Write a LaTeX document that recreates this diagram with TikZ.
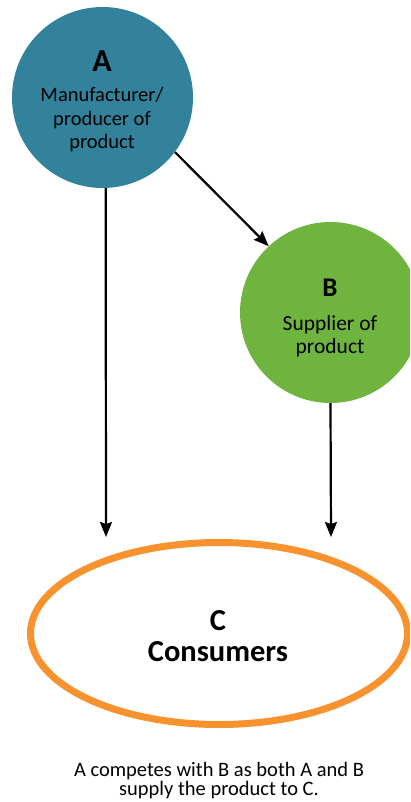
\documentclass[tikz,border=0pt]{standalone}
\usepackage{fontspec}
\setmainfont{Carlito}
\usetikzlibrary{arrows.meta,shapes.geometric}
\definecolor{tealA}{HTML}{31829A}
\definecolor{greenB}{HTML}{6EB43F}
\definecolor{orangeC}{HTML}{F7922F}
\tikzset{
  party/.style={circle, minimum size=181pt, inner sep=0pt, draw=none},
  txt/.style={anchor=base, inner sep=0pt, font=\fontsize{20.5}{24}\selectfont},
  flow/.style={line width=2.2pt, -{Stealth[length=15pt, width=12pt, inset=2pt]}}
}
\begin{document}
\begin{tikzpicture}[x=1pt, y=-1pt]
  \useasboundingbox (0,0) rectangle (410,802);
  \clip (0,0) rectangle (410,802);

  % parties
  \node[party, fill=tealA] (A) at (102.5,97.5) {};
  \node[party, fill=greenB] (B) at (330.5,312.5) {};
  \node[ellipse, draw=orangeC, line width=7pt, minimum width=377pt,
        minimum height=182pt, inner sep=0pt] (C) at (219,633.5) {};

  % labels of A
  \node[txt, font=\bfseries\fontsize{32}{32}\selectfont] (Ah) at (102,71.5) {A};
  \node[txt] (A1) at (102,102) {Manufacturer/};
  \node[txt] (A2) at (102,125.5) {producer of};
  \node[txt] (A3) at (102,149) {product};

  % labels of B
  \node[txt, font=\bfseries\fontsize{27}{27}\selectfont] (Bh) at (330,296) {B};
  \node[txt, font=\fontsize{21.5}{24}\selectfont] (B1) at (330,330) {Supplier of};
  \node[txt, font=\fontsize{21.5}{24}\selectfont] (B2) at (330,353) {product};

  % labels of C
  \node[txt, font=\bfseries\fontsize{30.5}{30}\selectfont] (Ch) at (218,630) {C};
  \node[txt, font=\bfseries\fontsize{30.5}{30}\selectfont] (C1) at (218,661.5) {Consumers};

  % caption
  \node[txt] (cap1) at (219,776.5) {A competes with B as both A and B};
  \node[txt] (cap2) at (219,795) {supply the product to C.};

  % connectors
  \coordinate (aC) at (106,537);
  \coordinate (bC) at (331,537);
  \draw[flow] (A.-88) -- (aC);
  \draw[flow] (B.-90) -- (bC);
  \draw[flow] (A.-37) -- (B.133);
\end{tikzpicture}
\end{document}
